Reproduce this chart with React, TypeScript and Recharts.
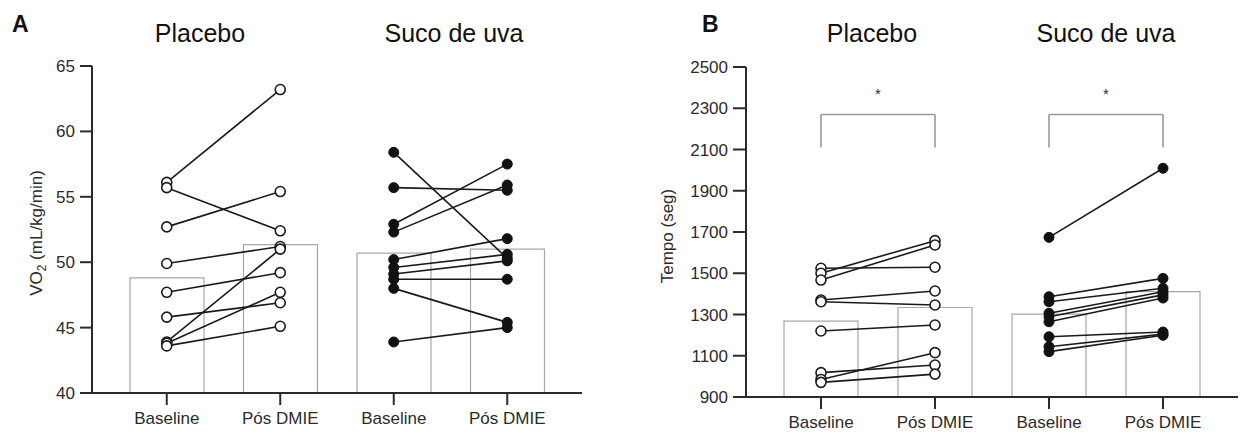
import React from 'react';
import { ComposedChart, Bar, Line, XAxis, YAxis, ReferenceLine, ReferenceDot } from 'recharts';

// categories on the x axis (keys must be unique, labels repeat)
const categories = ['pb', 'pp', 'sb', 'sp'];
const tickLabels = ['Baseline', 'Pós DMIE', 'Baseline', 'Pós DMIE'];

// panel A - VO2 (mL/kg/min)
const vo2Means = [48.8, 51.35, 50.7, 51.0];
const vo2PlaceboBase = [56.1, 55.7, 52.7, 49.9, 47.7, 45.8, 43.9, 43.8, 43.6];
const vo2PlaceboPos = [63.2, 52.4, 55.4, 51.2, 49.2, 46.9, 51.0, 47.7, 45.1];
const vo2SucoBase = [58.4, 55.7, 52.9, 52.3, 50.2, 49.6, 49.1, 48.7, 48.0, 43.9];
const vo2SucoPos = [50.3, 55.5, 57.5, 55.9, 51.8, 50.6, 50.1, 48.7, 45.4, 45.0];
const vo2Ticks = [40, 45, 50, 55, 60, 65];

// panel B - Tempo (seg)
const tempoMeans = [1268, 1334, 1302, 1411];
const tempoPlaceboBase = [1524, 1500, 1467, 1370, 1362, 1220, 1018, 985, 971];
const tempoPlaceboPos = [1529, 1658, 1637, 1414, 1346, 1249, 1055, 1115, 1011];
const tempoSucoBase = [1674, 1386, 1362, 1306, 1289, 1265, 1192, 1144, 1120];
const tempoSucoPos = [2009, 1475, 1427, 1410, 1395, 1380, 1215, 1205, 1199];
const tempoTicks = [900, 1100, 1300, 1500, 1700, 1900, 2100, 2300, 2500];

// significance brackets for panel B
const tempoBrackets = [
  { from: 'pb', to: 'pp', top: 2270, bottom: 2110, star: 2345 },
  { from: 'sb', to: 'sp', top: 2270, bottom: 2110, star: 2345 },
];

const FONT = '"Liberation Sans", Arial, Helvetica, sans-serif';
const INK = '#2b2b2b';

type Row = Record<string, string | number>;

function buildRows(means: number[], pBase: number[], pPos: number[], sBase: number[], sPos: number[]) {
  const rows: Row[] = categories.map((c, i) => ({ cat: c, mean: means[i] }));
  pBase.forEach((v, k) => {
    rows[0]['p' + k] = v;
    rows[1]['p' + k] = pPos[k];
  });
  sBase.forEach((v, k) => {
    rows[2]['s' + k] = v;
    rows[3]['s' + k] = sPos[k];
  });
  return rows;
}

// the star sits halfway between the two legs of a bracket
const Star = (props: any) => {
  const { cx, cy, dx } = props;
  return (
    <text x={cx + dx} y={cy} textAnchor="middle" fontSize={15} fill={INK} fontFamily={FONT}>*</text>
  );
};

interface PanelProps {
  width: number;
  margin: { top: number; right: number; bottom: number; left: number };
  rows: Row[];
  yDomain: [number, number];
  yTicks: number[];
  yWidth: number;
  yTickSize: number;
  xHeight: number;
  pCount: number;
  sCount: number;
  brackets?: typeof tempoBrackets;
  half?: number;
}

const Panel: React.FC<PanelProps> = ({ width, margin, rows, yDomain, yTicks, yWidth, yTickSize, xHeight, pCount, sCount, brackets = [], half = 0 }) => {
  const axisLine = { stroke: INK, strokeWidth: 2 };
  const bracketStyle = { stroke: '#9a9a9a', strokeWidth: 1.6 };
  return (
    <ComposedChart width={width} height={432} data={rows} margin={margin}>
      <XAxis
        dataKey="cat"
        type="category"
        interval={0}
        padding={{ left: 18, right: 18 }}
        height={xHeight}
        tickSize={12}
        tickMargin={7}
        axisLine={axisLine}
        tickLine={axisLine}
        tick={{ fill: INK, fontSize: 17, fontFamily: FONT }}
        tickFormatter={(_v: string, i: number) => tickLabels[i]}
      />
      <YAxis
        type="number"
        domain={yDomain}
        ticks={yTicks}
        interval={0}
        width={yWidth}
        tickSize={yTickSize}
        tickMargin={5}
        axisLine={axisLine}
        tickLine={axisLine}
        tick={{ fill: INK, fontSize: 17, fontFamily: FONT }}
        allowDataOverflow
      />
      <Bar dataKey="mean" barSize={74} fill="#ffffff" stroke="#a8a8a8" strokeWidth={1.2} isAnimationActive={false} />
      {Array.from({ length: pCount }, (_, k) => (
        <Line
          key={'p' + k}
          dataKey={'p' + k}
          stroke="#1a1a1a"
          strokeWidth={1.6}
          dot={{ r: 5, fill: '#ffffff', stroke: '#1a1a1a', strokeWidth: 1.6 }}
          activeDot={false}
          isAnimationActive={false}
        />
      ))}
      {Array.from({ length: sCount }, (_, k) => (
        <Line
          key={'s' + k}
          dataKey={'s' + k}
          stroke="#1a1a1a"
          strokeWidth={1.6}
          dot={{ r: 5, fill: '#111111', stroke: '#111111', strokeWidth: 1 }}
          activeDot={false}
          isAnimationActive={false}
        />
      ))}
      {brackets.map((b, i) => (
        <ReferenceLine key={'bt' + i} segment={[{ x: b.from, y: b.top }, { x: b.to, y: b.top }]} {...bracketStyle} />
      ))}
      {brackets.map((b, i) => (
        <ReferenceLine key={'bl' + i} segment={[{ x: b.from, y: b.top }, { x: b.from, y: b.bottom }]} {...bracketStyle} />
      ))}
      {brackets.map((b, i) => (
        <ReferenceLine key={'br' + i} segment={[{ x: b.to, y: b.top }, { x: b.to, y: b.bottom }]} {...bracketStyle} />
      ))}
      {brackets.map((b, i) => (
        <ReferenceDot key={'st' + i} x={b.from} y={b.star} r={1} shape={(p: any) => <Star {...p} dx={half} />} />
      ))}
    </ComposedChart>
  );
};

const App: React.FC = () => {
  const vo2Rows = buildRows(vo2Means, vo2PlaceboBase, vo2PlaceboPos, vo2SucoBase, vo2SucoPos);
  const tempoRows = buildRows(tempoMeans, tempoPlaceboBase, tempoPlaceboPos, tempoSucoBase, tempoSucoPos);

  return (
    <div style={{ position: 'absolute', left: 0, top: 0, width: 1245, height: 432, background: '#fff', fontFamily: FONT }}>
      <div style={{ position: 'absolute', left: 0, top: 0 }}>
        <Panel
          width={610}
          margin={{ top: 66, right: 28, bottom: 0, left: 0 }}
          rows={vo2Rows}
          yDomain={[40, 65]}
          yTicks={vo2Ticks}
          yWidth={92}
          yTickSize={12}
          xHeight={39}
          pCount={vo2PlaceboBase.length}
          sCount={vo2SucoBase.length}
        />
      </div>
      <div style={{ position: 'absolute', left: 620, top: 0 }}>
        <Panel
          width={625}
          margin={{ top: 67, right: 7, bottom: 0, left: 0 }}
          rows={tempoRows}
          yDomain={[900, 2500]}
          yTicks={tempoTicks}
          yWidth={126}
          yTickSize={13}
          xHeight={35}
          pCount={tempoPlaceboBase.length}
          sCount={tempoSucoBase.length}
          brackets={tempoBrackets}
          half={57}
        />
      </div>
      <svg width={1245} height={432} style={{ position: 'absolute', left: 0, top: 0, pointerEvents: 'none' }}>
        <g fontFamily={FONT} fill="#111">
          <text x={12} y={32} fontSize={23} fontWeight="bold">A</text>
          <text x={702} y={32} fontSize={23} fontWeight="bold">B</text>
          <text x={200} y={42} fontSize={25} textAnchor="middle">Placebo</text>
          <text x={454} y={42} fontSize={25} textAnchor="middle">Suco de uva</text>
          <text x={872} y={42} fontSize={25} textAnchor="middle">Placebo</text>
          <text x={1106} y={42} fontSize={25} textAnchor="middle">Suco de uva</text>
        </g>
        <g fontFamily={FONT} fill={INK} fontSize={17}>
          <text x={42} y={233} textAnchor="middle" transform="rotate(-90 42 233)">
            VO<tspan fontSize={12} dy={4}>2</tspan>
            <tspan dy={-4}> (mL/kg/min)</tspan>
          </text>
          <text x={673} y={236} textAnchor="middle" transform="rotate(-90 673 236)">Tempo (seg)</text>
        </g>
      </svg>
    </div>
  );
};

export default App;
